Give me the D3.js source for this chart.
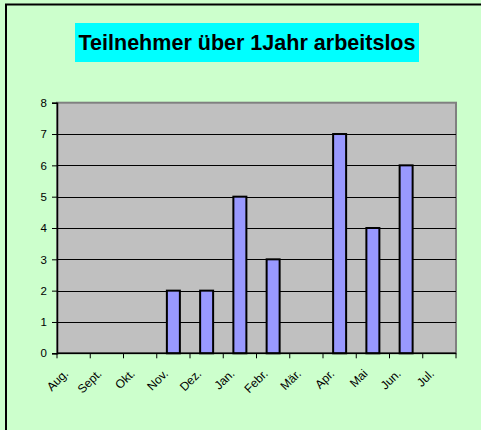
<!DOCTYPE html>
<html><head><meta charset="utf-8">
<script src="https://cdn.jsdelivr.net/npm/d3@7"></script>
<style>body{margin:0;background:#ccffcc;}svg{display:block;}</style>
</head><body>
<script>
const months = ["Aug.","Sept.","Okt.","Nov.","Dez.","Jan.","Febr.","Mär.","Apr.","Mai","Jun.","Jul."];
const values = [0,0,0,2,2,5,3,0,7,4,6,0];
const yTicks = [0,1,2,3,4,5,6,7,8];
const title = "Teilnehmer über 1Jahr arbeitslos";

(function(){
const W = 481, H = 430;
const svg = d3.select("body").append("svg").attr("width", W).attr("height", H);
svg.append("rect").attr("x",0).attr("y",0).attr("width",W).attr("height",H).attr("fill","#ccffcc");
// chart frame
svg.append("rect").attr("x",6).attr("y",4.5).attr("width",W+10).attr("height",H+10)
  .attr("fill","#ccffcc").attr("stroke","#000").attr("stroke-width",2);

// title
svg.append("rect").attr("x",75).attr("y",23).attr("width",344).attr("height",39).attr("fill","#00ffff");
const t = svg.append("text").attr("x",247).attr("y",49.5).attr("text-anchor","middle")
  .attr("font-family","Liberation Sans, Arial, sans-serif").attr("font-weight","bold")
  .attr("font-size",21.5).attr("fill","#000").text(title);
t.attr("textLength",337).attr("lengthAdjust","spacingAndGlyphs");

const pl = 57, pr = 456, pt = 102.7, pb = 353.3;
const x = d3.scaleBand().domain(months).range([pl,pr]).paddingInner(0).paddingOuter(0);
const y = d3.scaleLinear().domain([0,8]).range([pb,pt]);

svg.append("rect").attr("x",pl).attr("y",pt).attr("width",pr-pl).attr("height",pb-pt)
  .attr("fill","#c0c0c0").attr("stroke","#808080").attr("stroke-width",2);

// gridlines
svg.append("g").selectAll("line").data(yTicks.slice(1,-1)).join("line")
  .attr("x1",pl).attr("x2",pr).attr("y1",d=>Math.round(y(d))+0.5).attr("y2",d=>Math.round(y(d))+0.5)
  .attr("stroke","#000").attr("stroke-width",1);

// bars
const bw = 13;
svg.append("g").selectAll("rect").data(months.map((m,i)=>({m,v:values[i]})).filter(d=>d.v>0)).join("rect")
  .attr("x",d=>x(d.m)+x.bandwidth()/2-bw/2).attr("y",d=>y(d.v)).attr("width",bw).attr("height",d=>y(0)-y(d.v))
  .attr("fill","#9999ff").attr("stroke","#000").attr("stroke-width",2);

// y axis
const yAxis = d3.axisLeft(y).tickValues(yTicks).tickSize(5).tickPadding(5).tickFormat(d3.format("d"));
const ga = svg.append("g").attr("transform",`translate(${pl},0)`).call(yAxis);
ga.select(".domain").attr("stroke","#000").attr("stroke-width",1.5);
ga.selectAll("text").attr("font-family","Liberation Sans, Arial, sans-serif").attr("font-size",11.5).attr("fill","#000");

// x axis
const xAxisG = svg.append("g").attr("transform",`translate(0,${pb})`);
xAxisG.append("line").attr("x1",pl).attr("x2",pr).attr("y1",0).attr("y2",0).attr("stroke","#000").attr("stroke-width",1.5);
const bounds = months.map(m=>x(m)).concat([pr]);
xAxisG.selectAll("line.tick").data(bounds).join("line").attr("class","tick")
  .attr("x1",d=>d).attr("x2",d=>d).attr("y1",0).attr("y2",5).attr("stroke","#000").attr("stroke-width",1);
xAxisG.selectAll("text").data(months).join("text")
  .attr("transform",d=>`translate(${x(d)+x.bandwidth()/2-4.5},${21}) rotate(-45)`)
  .attr("text-anchor","end")
  .attr("font-family","Liberation Sans, Arial, sans-serif").attr("font-size",12).attr("fill","#000")
  .text(d=>d);
})();
</script>
</body></html>
